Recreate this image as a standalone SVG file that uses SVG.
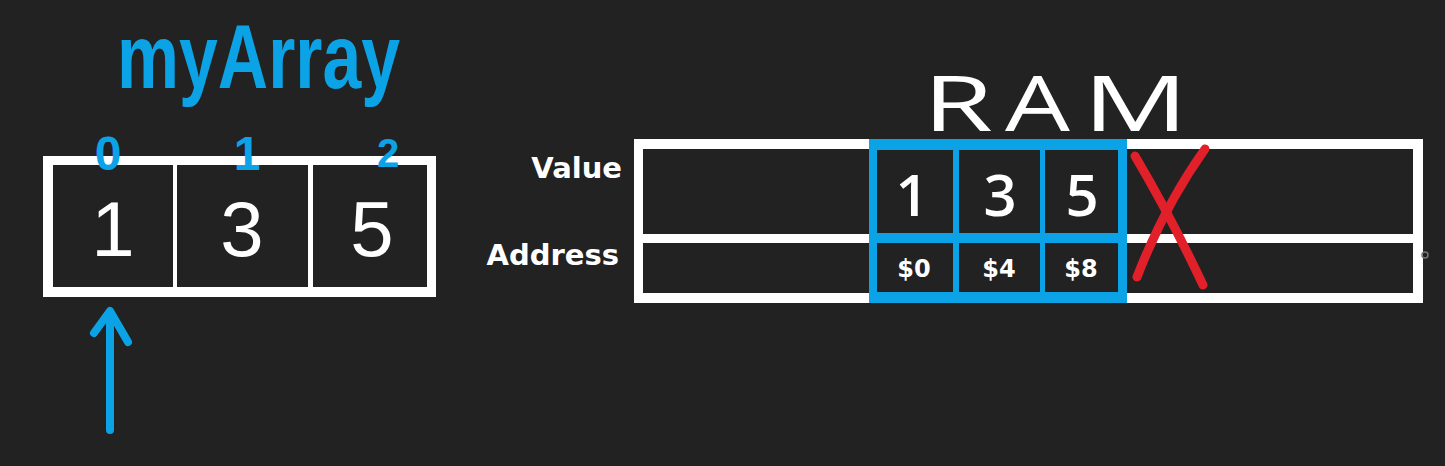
<svg xmlns="http://www.w3.org/2000/svg" width="1445" height="466" viewBox="0 0 1445 466">
<style>
.bg{fill:#222222}
.cell{fill:#222222}
.white{fill:#ffffff}
.blue{fill:#0ba3e6}
.hand{font-family:"Open Sans","DejaVu Sans",sans-serif;fill:#ffffff;font-weight:600}
.ram{font-family:"Open Sans","DejaVu Sans",sans-serif;fill:#ffffff;font-weight:400}
.digit{font-family:"Liberation Sans",Arial,sans-serif;fill:#ffffff;text-anchor:middle}
.title{font-family:"Liberation Sans",Arial,sans-serif;fill:#0ba3e6;font-weight:bold}
.idx{font-family:"Liberation Sans",Arial,sans-serif;fill:#0ba3e6;text-anchor:middle;font-weight:bold}
.lbl{font-family:"DejaVu Sans",sans-serif;font-weight:bold;fill:#ffffff;font-size:29px;text-anchor:end}
.addr{font-family:"DejaVu Sans",sans-serif;font-weight:bold;fill:#ffffff;font-size:24px;text-anchor:middle}
.stroke-blue{stroke:#0ba3e6;stroke-width:8;stroke-linecap:round;stroke-linejoin:round;fill:none}
.stroke-red{stroke:#e1202a;stroke-width:9;stroke-linecap:round;fill:none}
</style>
<rect class="bg" x="0" y="0" width="1445" height="466"/>

<g id="myArray-label">
<text class="title" x="117" y="88" font-size="90" textLength="283" lengthAdjust="spacingAndGlyphs">myArray</text>
</g>

<g id="array">
<rect class="white" x="43" y="156" width="393" height="141"/>
<rect class="cell" x="53" y="165" width="120" height="122"/>
<rect class="cell" x="177" y="165" width="131" height="122"/>
<rect class="cell" x="313" y="165" width="114" height="122"/>
<text class="digit" x="113" y="256" font-size="78">1</text>
<text class="digit" x="242" y="256" font-size="78">3</text>
<text class="digit" x="372" y="256" font-size="78">5</text>
</g>

<g id="indices">
<text class="idx" x="108" y="170" font-size="48">0</text>
<text class="idx" x="247" y="170" font-size="48">1</text>
<text class="idx" x="388" y="167" font-size="40">2</text>
</g>

<g id="ram-label">
<text class="ram" x="923" y="131" font-size="76" textLength="70" lengthAdjust="spacingAndGlyphs">R</text>
<text class="ram" x="1005" y="131" font-size="76" textLength="65" lengthAdjust="spacingAndGlyphs">A</text>
<text class="ram" x="1083" y="131" font-size="76" textLength="105" lengthAdjust="spacingAndGlyphs">M</text>
</g>

<g id="row-labels">
<text class="lbl" x="622" y="178">Value</text>
<text class="lbl" x="619" y="265" font-size="30">Address</text>
</g>

<g id="ram">
<rect class="white" x="634" y="139" width="789" height="164"/>
<rect class="cell" x="643" y="149" width="770" height="85"/>
<rect class="cell" x="643" y="243" width="770" height="50"/>
<rect class="blue" x="869" y="139" width="258" height="164"/>
<rect class="cell" x="877" y="150" width="76" height="83"/>
<rect class="cell" x="959" y="150" width="81" height="83"/>
<rect class="cell" x="1045" y="150" width="73" height="83"/>
<rect class="cell" x="877" y="243" width="76" height="49"/>
<rect class="cell" x="959" y="243" width="81" height="49"/>
<rect class="cell" x="1045" y="243" width="73" height="49"/>
<text class="hand" x="912" y="216" font-size="58" text-anchor="middle">1</text>
<text class="hand" x="1000" y="216" font-size="58" text-anchor="middle">3</text>
<text class="hand" x="1082" y="216" font-size="58" text-anchor="middle">5</text>
<text class="addr" x="914" y="277">$0</text>
<text class="addr" x="999" y="277">$4</text>
<text class="addr" x="1081" y="277">$8</text>
</g>

<g id="connectors">
<path class="stroke-blue" d="M110 430 L110 312 M94 333 L110 311 L128 342"/>
<path class="stroke-red" d="M1135 156 Q1170 215 1203 285"/>
<path class="stroke-red" d="M1205 149 Q1165 205 1137 277"/>
</g>

<g id="cursor">
<circle cx="1425" cy="255" r="3" fill="none" stroke="#777777" stroke-width="1.5"/>
</g>
</svg>
